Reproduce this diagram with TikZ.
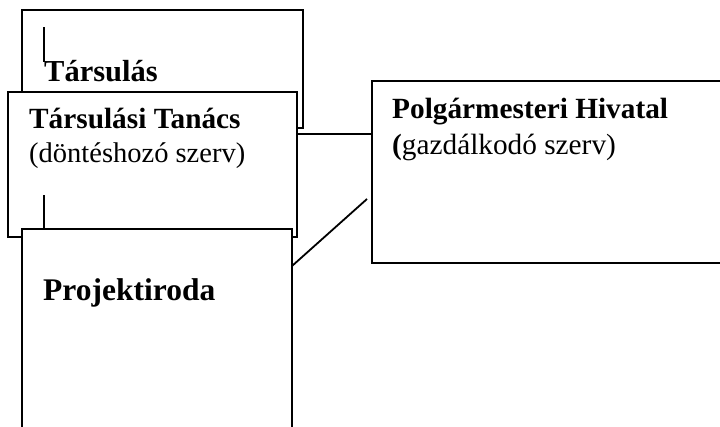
\documentclass[tikz,border=0pt]{standalone}
\usepackage{fontspec}
\setmainfont{Liberation Serif}
\begin{document}
\begin{tikzpicture}[x=1pt,y=-1pt,
  box/.style={draw=black,line width=1.8pt,fill=white,rectangle,inner sep=0pt,anchor=north west},
  lbl/.style={anchor=base west,inner sep=0pt,text=black},
  conn/.style={draw=black,line width=1.8pt}]
\useasboundingbox (0,0) rectangle (720,426);
\clip (0,0) rectangle (720,426);
% boxes
\node[box,minimum width=281pt,minimum height=118pt] (tarsulas) at (21,9) {};
\coordinate (t1a) at (44,27);
\coordinate (t1b) at (44,62);
\draw[conn] (t1a) -- (t1b);
\node[lbl,font=\fontsize{30.5}{36}\selectfont\bfseries] (tarsulastxt) at (44,81) {Társulás};
\node[box,minimum width=289pt,minimum height=145pt] (tanacs) at (7,91) {};
\node[lbl,font=\fontsize{29.3}{34}\selectfont\bfseries] (tanacstxt) at (29,128) {Társulási Tanács};
\node[lbl,font=\fontsize{28.5}{34}\selectfont] (tanacssub) at (29,162) {(döntéshozó szerv)};
\coordinate (t2a) at (44,195);
\coordinate (t2b) at (44,228);
\draw[conn] (t2a) -- (t2b);
\node[box,minimum width=270pt,minimum height=230pt] (projekt) at (21,228) {};
\node[lbl,font=\fontsize{31.5}{36}\selectfont\bfseries] (projekttxt) at (43,300) {Projektiroda};
\node[box,minimum width=370pt,minimum height=182pt] (hivatal) at (371,80) {};
\node[lbl,font=\fontsize{29.3}{35}\selectfont\bfseries] (hivataltxt) at (392,118) {Polgármesteri Hivatal};
\node[lbl,font=\fontsize{29.3}{35}\selectfont] (hivatalsub) at (392,154) {\textbf{(}gazdálkodó szerv)};
% connectors
\coordinate (h1) at (296,134);
\coordinate (h2) at (371,134);
\draw[conn] (h1) -- (h2);
\coordinate (d1) at (367,199);
\coordinate (d2) at (292,266);
\draw[conn] (d1) -- (d2);
\end{tikzpicture}
\end{document}
